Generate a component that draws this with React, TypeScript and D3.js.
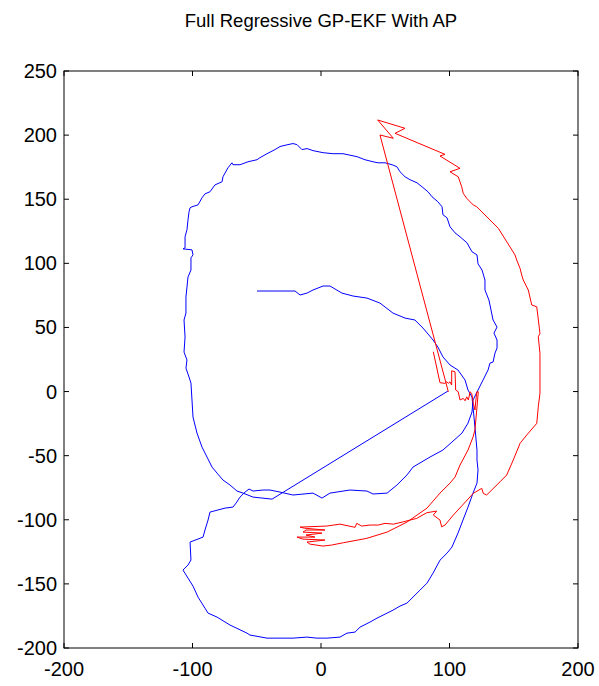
import React from "react";
import * as d3 from "d3";

const chartTitle = "Full Regressive GP-EKF With AP";
const xTicks = [-200, -100, 0, 100, 200];
const yTicks = [-200, -150, -100, -50, 0, 50, 100, 150, 200, 250];

const blueTrack: [number, number][] = [
  [-49.8,78.4],[-33.5,78.4],[-20.2,78.4],[-16.3,75.3],[-10.9,76.8],[-6.2,79.2],[1.6,82.3],[7.0,82.3],[16.3,76.8],[24.9,74.5],[35.8,72.9],[45.9,69.0],[56.0,61.2],[65.4,57.3],[73.1,55.8],[79.4,49.5],[87.2,40.2],[91.0,34.7],[94.9,27.0],[100.4,20.7],[106.6,16.8],[112.1,9.0],[114.4,1.2],[117.5,-4.3],
  [118.3,-12.1],[119.8,-27.7],[121.4,-45.6],[121.4,-53.4],[122.2,-61.2],[121.4,-71.4],[118.3,-79.2],[114.4,-90.1],[110.5,-100.2],[106.6,-110.4],[101.9,-121.3],[98.1,-126.0],[92.6,-131.5],[87.2,-141.6],[82.5,-149.4],[77.0,-154.9],[71.6,-160.3],[66.9,-165.0],[61.5,-167.3],[56.0,-170.5],[51.4,-172.8],[43.6,-176.7],[38.1,-179.8],[30.4,-183.7],[26.5,-187.6],[20.2,-188.4],[14.8,-191.5],[4.7,-192.3],[-3.1,-192.3],[-10.9,-191.5],[-21.8,-192.3],[-42.0,-192.3],[-55.3,-189.9],[-57.6,-188.4],[-70.8,-182.1],[-80.9,-175.9],[-87.9,-172.8],[-90.3,-168.9],[-95.7,-160.3],[-99.6,-151.7],[-103.5,-145.5],[-107.4,-139.2],[-103.5,-135.3],[-101.2,-131.4],[-101.9,-117.4],[-91.8,-113.5],[-90.3,-108.0],[-87.9,-100.2],[-86.4,-94.0],[-74.7,-90.9],[-68.5,-90.1],[-66.1,-87.0],[-63.0,-82.3],[-59.1,-78.4],[-56.0,-76.0],
  [-52.9,-77.6],[-45.1,-76.8],[-39.7,-76.8],[-31.9,-78.4],[-21.8,-80.7],[-6.2,-79.2],[0.8,-83.1],[7.0,-79.2],[22.6,-76.8],[35.8,-77.6],[40.5,-79.9],[51.4,-79.2],[59.1,-72.9],[66.9,-65.1],[71.6,-58.9],[84.8,-51.1],[94.9,-45.6],[101.9,-39.4],[109.7,-32.4],[114.4,-24.6],[117.5,-16.0],[118.3,-6.6],
  [122.2,1.2],[126.1,9.0],[130.0,16.8],[131.5,22.2],[133.9,23.0],[135.4,30.0],[137.0,33.9],[137.0,40.2],[134.6,45.6],[137.0,50.3],[133.9,55.8],[132.3,63.6],[130.7,71.4],[127.6,79.2],[127.6,87.0],[125.3,94.8],[122.2,99.6],[121.4,106.6],[117.5,109.0],[113.6,116.0],[108.2,120.7],[104.3,123.8],[100.4,128.5],[98.1,135.5],[94.9,137.9],[94.2,144.1],[91.0,148.0],[86.4,151.9],[83.3,155.8],[78.6,159.7],[74.7,162.8],[69.3,165.2],[65.4,167.5],[61.5,171.4],[59.1,175.3],[55.3,176.9],[49.8,178.4],[44.4,178.4],[40.5,179.2],[34.2,180.8],[28.0,183.2],[17.1,185.5],[9.3,185.5],[1.6,186.3],[-6.2,187.9],[-10.9,189.5],[-14.8,188.7],[-18.7,192.6],[-21.8,193.4],[-25.7,192.6],[-31.9,191.1],[-35.8,188.7],[-42.0,185.5],[-47.5,182.4],[-49.8,180.8],[-56.8,179.2],[-63.0,176.9],[-68.5,176.9],[-69.3,178.4],[-72.4,174.5],[-76.3,167.5],[-77.0,163.6],[-82.5,161.2],[-86.4,155.8],[-90.3,154.2],[-92.6,151.1],[-95.7,145.6],[-100.4,144.1],[-101.9,143.3],[-102.7,140.2],[-103.5,133.9],[-104.3,126.2],[-105.8,120.7],[-105.8,112.1],[-107.4,111.3],[-100.4,110.5],[-99.6,106.6],[-101.2,104.3],[-101.2,94.8],[-103.5,89.3],[-104.3,81.5],[-105.1,73.7],[-105.1,61.2],[-106.6,55.8],[-105.8,42.5],[-106.6,30.8],[-104.3,24.6],[-105.1,18.3],[-102.7,11.3],[-101.2,6.6],[-100.4,-6.6],[-99.6,-19.9],[-96.5,-32.4],[-92.6,-43.3],[-88.7,-51.1],[-84.8,-58.9],[-80.9,-63.6],[-76.3,-69.0],[-70.8,-72.9],[-65.4,-77.6],[-60.7,-79.2],[-52.9,-82.3],[-38.1,-83.9],[98.8,0.4]
];

const redTrack: [number, number][] = [
  [99.1,-0.2],[45.9,200.1],[56.3,197.5],[44.1,211.8],[65.4,205.3],[57.6,201.4],[96.5,185.0],[92.6,183.7],[108.2,174.1],[100.4,171.4],[106.8,167.5],[109.5,159.7],[110.7,154.6],[113.4,150.7],[118.5,145.5],[121.2,144.1],[138.0,127.3],[151.0,106.5],[152.3,102.6],[154.9,96.1],[156.2,90.9],[157.4,87.0],[161.3,79.2],[164.0,67.5],[167.9,66.1],[170.4,45.4],[169.1,42.7],[170.4,29.8],[170.4,9.0],[170.4,-1.4],[169.1,-11.9],[167.9,-24.8],[160.1,-33.9],[154.9,-40.4],[149.6,-53.4],[144.5,-65.1],[139.3,-70.4],[128.9,-80.7],[126.3,-79.4],[125.1,-75.5],[118.5,-79.4],[103.0,-96.3],[96.5,-104.1],[93.9,-105.5],[92.6,-100.2],[87.4,-96.3],[90.0,-93.2],[82.3,-94.5],[74.5,-98.9],[64.0,-101.6],[56.3,-103.4],[49.8,-102.8],[44.6,-104.1],[38.1,-104.1],[31.7,-104.9],[27.8,-102.8],[26.5,-105.9],[14.8,-103.4],[4.4,-104.9],
  [-16.3,-105.7],[-13.2,-106.5],[3.1,-108.0],[-11.7,-108.0],[-14.0,-109.6],[0.8,-110.4],[-11.7,-111.9],[-4.7,-113.5],[-18.7,-113.5],[-14.0,-115.1],[3.1,-115.8],[-10.9,-117.4],[-8.6,-119.0],[1.6,-120.5],
  [8.3,-119.7],[17.4,-117.9],[35.6,-114.5],[51.4,-109.6],[66.9,-101.8],[82.5,-90.9],[92.6,-79.2],[100.4,-71.4],[104.3,-66.7],[108.2,-57.3],[114.4,-45.6],[118.3,-35.5],[119.8,-30.0],
  [121.2,-14.4],[122.4,-0.2],[121.2,-0.2],[119.8,-14.4],[118.5,-9.2],[117.3,-1.4],[116.0,-0.2],[114.7,-6.6],[113.4,-4.1],[112.1,-7.2],[110.7,-5.3],[108.2,-6.6],[106.8,-0.2],[104.8,1.2],[104.3,15.4],[101.7,16.2],[101.7,5.1],[100.4,7.6],[99.1,6.4],[97.8,7.6],[96.5,6.4],[92.6,6.9],[87.4,31.0]
];

const W = 599, H = 686;
const L = 64, R = 578, T = 71, B = 648;
const FONT = "'Liberation Sans', Arial, Helvetica, sans-serif";

export default function App() {
  const x = d3.scaleLinear().domain([-200, 200]).range([L, R]);
  const y = d3.scaleLinear().domain([-200, 250]).range([B, T]);
  const line = d3.line<[number, number]>().x(d => x(d[0])).y(d => y(d[1]));
  const tk = 5;
  return (
    <svg width={W} height={H} style={{ position: "absolute", left: 0, top: 0, background: "#fff" }}>
      <rect x={0} y={0} width={W} height={H} fill="#fff" />
      <path d={line(blueTrack) || ""} fill="none" stroke="#0000ff" strokeWidth={1} />
      <path d={line(redTrack) || ""} fill="none" stroke="#ff0000" strokeWidth={1} />
      <rect x={L} y={T} width={R - L} height={B - T} fill="none" stroke="#000" strokeWidth={1} />
      {xTicks.map(t => (
        <g key={"x" + t}>
          <line x1={x(t)} x2={x(t)} y1={B} y2={B - tk} stroke="#000" />
          <line x1={x(t)} x2={x(t)} y1={T} y2={T + tk} stroke="#000" />
          <text x={x(t)} y={676} fontSize={20} fontFamily={FONT} textAnchor="middle">{t}</text>
        </g>
      ))}
      {yTicks.map(t => (
        <g key={"y" + t}>
          <line x1={L} x2={L + tk} y1={y(t)} y2={y(t)} stroke="#000" />
          <line x1={R} x2={R - tk} y1={y(t)} y2={y(t)} stroke="#000" />
          <text x={57} y={y(t)} dy="0.35em" fontSize={20} fontFamily={FONT} textAnchor="end">{t}</text>
        </g>
      ))}
      <text x={(L + R) / 2} y={27} fontSize={18.5} fontFamily={FONT} textAnchor="middle">{chartTitle}</text>
    </svg>
  );
}
